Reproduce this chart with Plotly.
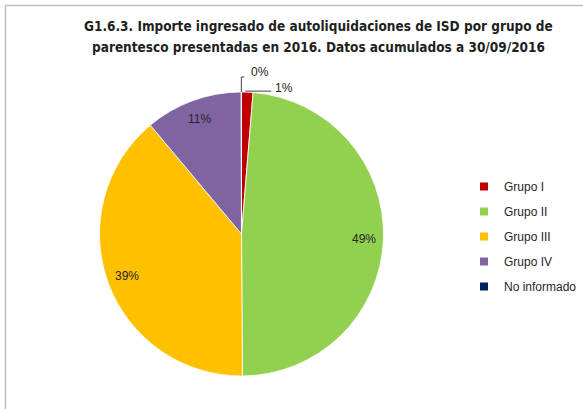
import math
import plotly.graph_objects as go

# ---- data ----
labels = ["Grupo I", "Grupo II", "Grupo III", "Grupo IV", "No informado"]
values = [1.3, 48.6, 39.0, 11.07, 0.03]
colors = ["#C00000", "#92D050", "#FFC000", "#8064A2", "#002060"]
title_lines = [
    "G1.6.3. Importe ingresado de autoliquidaciones de ISD por grupo de",
    "parentesco presentadas en 2016. Datos acumulados a 30/09/2016",
]

# ---- layout geometry (pixels) ----
W, H = 583, 409
CX, CY, R = 241.5, 234.0, 142.0


def px(x):
    return x / W


def py(y):
    return 1 - y / H


fig = go.Figure()
fig.add_trace(go.Pie(
    labels=labels, values=values, sort=False, direction="clockwise", rotation=0,
    marker=dict(colors=colors, line=dict(color="white", width=0.8)),
    textinfo="none", showlegend=False,
    domain=dict(x=[px(CX - R), px(CX + R)], y=[py(CY + R), py(CY - R)]),
))

# legend via marker-only traces
for lab, col in zip(labels, colors):
    fig.add_trace(go.Scatter(
        x=[None], y=[None], mode="markers", name=lab, legendgroup=lab,
        marker=dict(symbol="square", size=8, color=col),
    ))

total = sum(values)
annotations = []
shapes = []
lab_font = dict(family="Liberation Sans, Arial, sans-serif", size=12, color="#262626")
cum = 0.0
for i, v in enumerate(values):
    frac = v / total
    mid = (cum + frac / 2) * 2 * math.pi
    cum += frac
    pct = f"{round(frac * 100)}%"
    if frac >= 0.05:
        rr = 0.86 * R
        x = CX + rr * math.sin(mid)
        y = CY - rr * math.cos(mid)
        annotations.append(dict(x=px(x), y=py(y), xref="paper", yref="paper",
                                text=pct, showarrow=False, font=lab_font,
                                xanchor="center", yanchor="middle"))
    else:
        ax = CX + R * math.sin(mid)
        ay = CY - R * math.cos(mid)
        if frac < 0.005:
            # elbow leader: up then right
            path = f"M {px(ax)} {py(ay)} L {px(ax)} {py(ay - 15)} L {px(ax + 3)} {py(ay - 15)}"
            tx, ty = ax + 8, ay - 20
        else:
            ax, ay = ax - 2, ay - 1
            path = f"M {px(ax)} {py(ay)} L {px(ax + 26)} {py(ay)}"
            tx, ty = ax + 28, ay - 3
        shapes.append(dict(type="path", path=path, xref="paper", yref="paper",
                           line=dict(color="#404040", width=1)))
        annotations.append(dict(x=px(tx), y=py(ty), xref="paper", yref="paper",
                                text=pct, showarrow=False, font=lab_font,
                                xanchor="left", yanchor="middle"))

# title (two lines, Excel-like spacing)
title_font = dict(family="DejaVu Sans Condensed, Liberation Sans Narrow, Arial Narrow, sans-serif",
                  size=13.5, color="#1f1f1f")
for k, line in enumerate(title_lines):
    annotations.append(dict(
        x=px(318), y=py(26 + 21 * k), xref="paper", yref="paper",
        xanchor="center", yanchor="middle",
        text=f"<b>{line}</b>", showarrow=False, font=title_font,
    ))

# chart border (light grey frame)
shapes.append(dict(type="rect", xref="paper", yref="paper",
                   x0=px(5.5), y0=py(5.5), x1=1.05, y1=-0.05,
                   line=dict(color="#BFBFBF", width=1.5), fillcolor="rgba(0,0,0,0)"))

fig.update_layout(
    width=W, height=H, margin=dict(l=0, r=0, t=0, b=0),
    paper_bgcolor="white", plot_bgcolor="white",
    xaxis=dict(visible=False), yaxis=dict(visible=False),
    legend=dict(x=px(464), y=py(172), xanchor="left", yanchor="top",
                font=dict(family="Liberation Sans, Arial, sans-serif", size=12, color="#262626"),
                tracegroupgap=6, bgcolor="rgba(0,0,0,0)", itemwidth=30),
    annotations=annotations, shapes=shapes,
)

fig.write_html("out.html", config={"displayModeBar": False},
               post_script="document.body.style.margin='0px';")
